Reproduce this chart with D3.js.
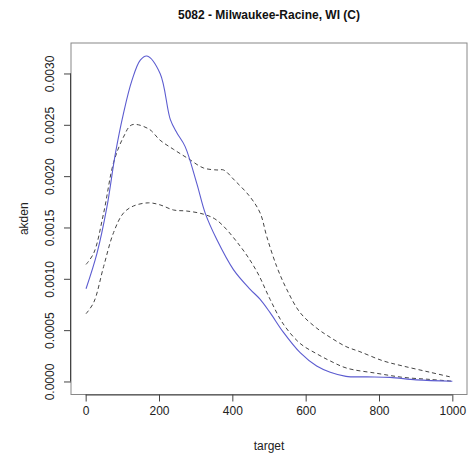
<!DOCTYPE html>
<html><head><meta charset="utf-8">
<script src="https://cdn.jsdelivr.net/npm/d3@7"></script>
<style>body{margin:0;background:#fff}svg{display:block}text{font-family:"Liberation Sans",Arial,sans-serif}</style>
</head><body><svg id="c" width="469" height="461"></svg>
<script>
const title = "5082 - Milwaukee-Racine, WI (C)";
const xLabel = "target";
const yLabel = "akden";
const xTicks = [0, 200, 400, 600, 800, 1000];
const yTicks = [0, 0.0005, 0.0010, 0.0015, 0.0020, 0.0025, 0.0030];
const yTickLabels = ["0.0000","0.0005","0.0010","0.0015","0.0020","0.0025","0.0030"];

// estimated density (solid blue)
const estX = [1, 31, 58, 81, 103, 126, 149, 167, 203, 231, 249, 271, 303, 326, 358, 403, 448, 476, 503, 539, 585, 630, 667, 710, 766, 830, 902, 1000];
const estY = [0.000903, 0.00125, 0.0017, 0.00222, 0.00261, 0.00293, 0.00313, 0.00317, 0.0030, 0.00255, 0.00242, 0.00229, 0.00193, 0.00164, 0.00138, 0.00109, 0.0009, 0.0008, 0.00067, 0.00048, 0.00028, 0.00015, 0.00009, 0.00005, 0.000045, 0.00004, 0.000016, 0.000002];
// upper band (dashed)
const upX = [1, 22, 49, 76, 103, 126, 172, 203, 240, 280, 321, 358, 376, 406, 448, 476, 494, 521, 548, 585, 630, 667, 710, 748, 812, 866, 939, 1000];
const upY = [0.00114, 0.00125, 0.00164, 0.00213, 0.00238, 0.0025, 0.00246, 0.00235, 0.00226, 0.00217, 0.00208, 0.00206, 0.00206, 0.00196, 0.0018, 0.00164, 0.00141, 0.00112, 0.0009, 0.00067, 0.00052, 0.00043, 0.00034, 0.00029, 0.0002, 0.00015, 0.00009, 0.00004];
// lower band (dashed)
const loX = [1, 22, 49, 76, 103, 131, 172, 203, 240, 276, 321, 358, 421, 467, 503, 539, 585, 630, 667, 712, 793, 866, 939, 1000];
const loY = [0.00066, 0.00077, 0.00112, 0.00145, 0.00164, 0.00171, 0.00174, 0.00172, 0.00167, 0.00166, 0.00163, 0.00157, 0.00132, 0.00107, 0.0008, 0.00056, 0.00037, 0.00027, 0.0002, 0.00013, 0.00008, 0.00004, 0.00002, 0.000003];

const svg = d3.select("#c");
const L = 71, R = 467, T = 43, B = 394.5;
const x = d3.scaleLinear().domain([-40, 1040]).range([L, R]);
const yMax = 0.00317, pad = yMax * 0.04;
const y = d3.scaleLinear().domain([-pad, yMax + pad]).range([B, T]);

const line = d3.line().x(d => x(d[0])).y(d => y(d[1])).curve(d3.curveCatmullRom);
const zip = (a, b) => a.map((v, i) => [v, b[i]]);

svg.append("path").attr("d", line(zip(upX, upY))).attr("fill", "none")
  .attr("stroke", "#444").attr("stroke-width", 1).attr("stroke-dasharray", "4,3");
svg.append("path").attr("d", line(zip(loX, loY))).attr("fill", "none")
  .attr("stroke", "#444").attr("stroke-width", 1).attr("stroke-dasharray", "4,3");
svg.append("path").attr("d", line(zip(estX, estY))).attr("fill", "none")
  .attr("stroke", "#5c5cd0").attr("stroke-width", 1.1);

// box
svg.append("rect").attr("x", L).attr("y", T).attr("width", R - L).attr("height", B - T)
  .attr("fill", "none").attr("stroke", "#888").attr("stroke-width", 1);

// x axis
const xa = svg.append("g").attr("transform", `translate(0,${B})`)
  .call(d3.axisBottom(x).tickValues(xTicks).tickSize(7).tickPadding(5).tickFormat(d3.format("d")));
xa.select(".domain").attr("d", `M${x(0)},0.5H${x(1000)}`).attr("stroke", "#444");
xa.selectAll(".tick line").attr("stroke", "#444");
xa.selectAll("text").attr("font-size", 12).attr("fill", "#222").attr("font-family", '"Liberation Sans",Arial,sans-serif');

// y axis
const ya = svg.append("g").attr("transform", `translate(${L},0)`)
  .call(d3.axisLeft(y).tickValues(yTicks).tickSize(7).tickFormat((d, i) => yTickLabels[i]));
ya.select(".domain").attr("d", `M-0.5,${y(0)}V${y(0.003)}`).attr("stroke", "#444");
ya.selectAll(".tick line").attr("stroke", "#444");
ya.selectAll(".tick text").attr("font-size", 12).attr("fill", "#222")
  .attr("font-family", '"Liberation Sans",Arial,sans-serif')
  .attr("x", null).attr("dy", null).attr("text-anchor", "middle")
  .attr("transform", "translate(-17,0) rotate(-90)");

svg.append("text").attr("x", (L + R) / 2).attr("y", 19).attr("text-anchor", "middle")
  .attr("font-size", 12).attr("font-weight", "bold").attr("fill", "#111").text(title);
svg.append("text").attr("x", (L + R) / 2).attr("y", 450).attr("text-anchor", "middle")
  .attr("font-size", 12).attr("fill", "#222").text(xLabel);
svg.append("text").attr("transform", `translate(28,${(T + B) / 2}) rotate(-90)`).attr("text-anchor", "middle")
  .attr("font-size", 12).attr("fill", "#222").text(yLabel);
</script></body></html>
